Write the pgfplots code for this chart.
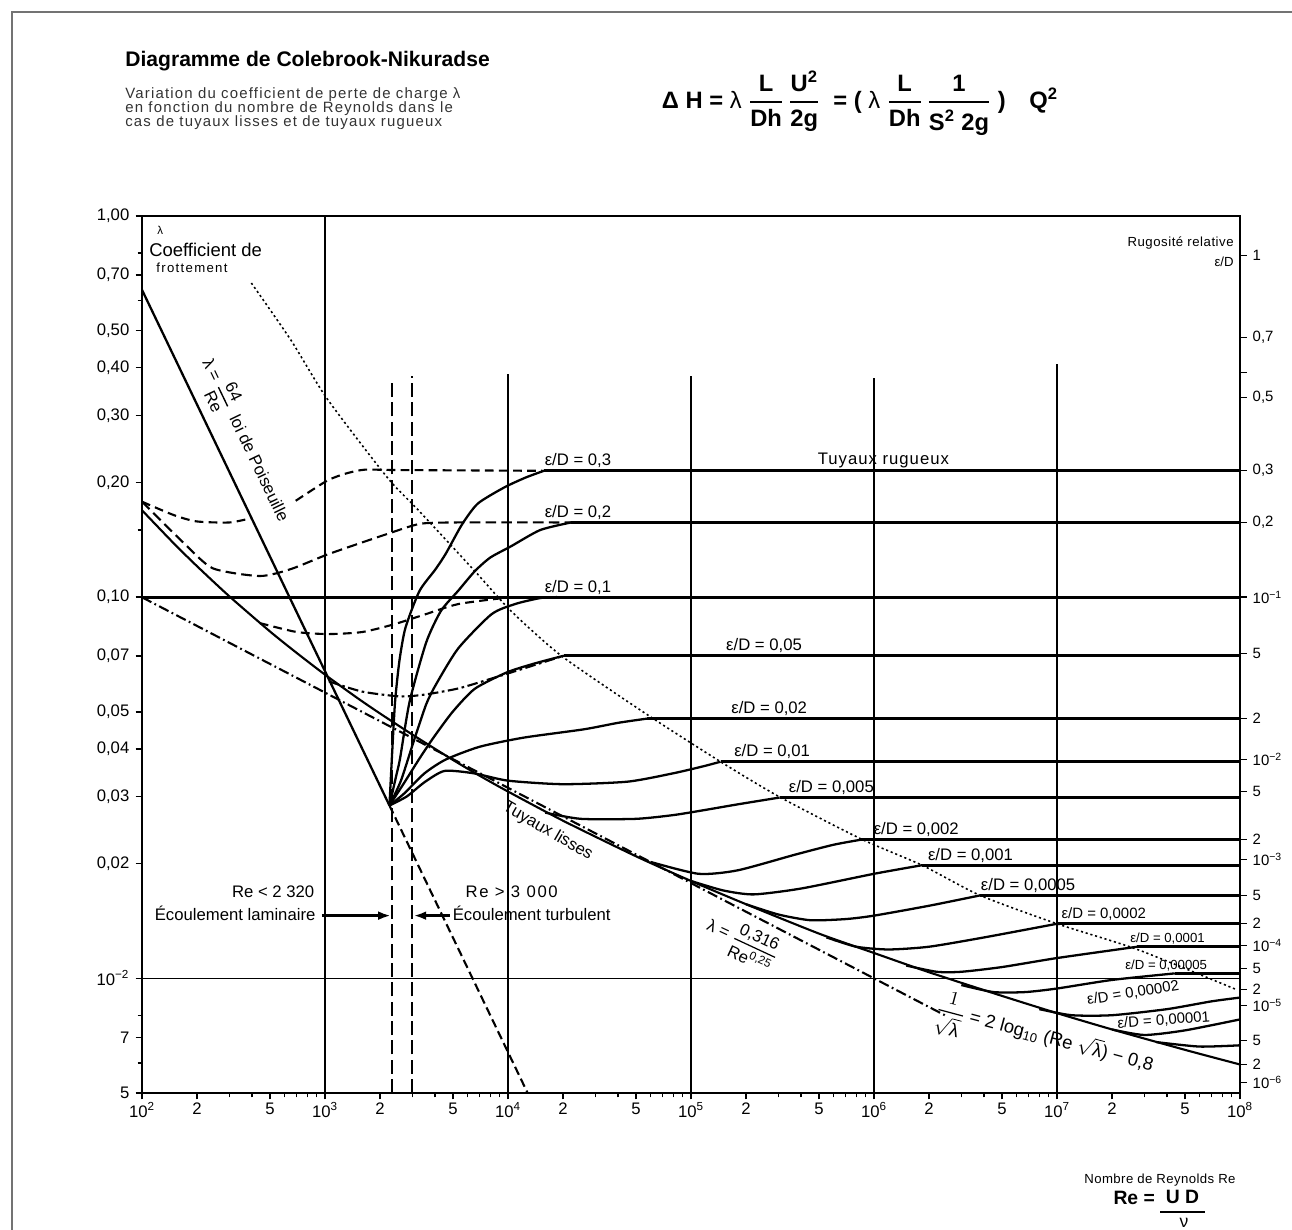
\documentclass[border=0pt]{standalone}
\usepackage{amsmath}
\usepackage{fontspec}
\setmainfont{Liberation Sans}
\usepackage{pgfplots}
\pgfplotsset{compat=1.18}
\usetikzlibrary{arrows.meta}
\newcommand{\fr}[3][1.2pt]{\genfrac{}{}{#1}{0}{#2}{#3}}

\pgfplotsset{
  crv/.style={black, line width=1.3pt, smooth, tension=0.4, mark=none},
  plat/.style={black, line width=1.5pt, mark=none},
  grd/.style={black, line width=1.0pt, mark=none},
}
\tikzset{
  lbl/.style={anchor=south west, inner sep=1.5pt, font=\fontsize{9.5}{10}\selectfont},
  slbl/.style={anchor=south west, inner sep=1pt, font=\fontsize{7.5}{8}\selectfont},
}

\begin{document}
\begin{tikzpicture}
\path[use as bounding box] (-2.84,-2.74) rectangle (23.0,21.86);
\draw[black!55, line width=0.6pt] (-2.6,-2.74) -- (-2.6,21.62) -- (23.0,21.62);

\begin{axis}[
  at={(0,0)}, anchor=south west,
  scale only axis, width=21.96cm, height=17.54cm,
  xmode=log, ymode=log,
  xmin=100, xmax=1e8, ymin=0.005, ymax=1,
  axis line style={line width=1.1pt},
  xtick pos=left, ytick pos=left,
  tick align=outside,
  major tick length=0.13cm, minor tick length=0.09cm,
  every tick/.style={black, line width=0.8pt},
  xtick={1e2,2e2,5e2,1e3,2e3,5e3,1e4,2e4,5e4,1e5,2e5,5e5,1e6,2e6,5e6,1e7,2e7,5e7,1e8},
  xticklabels={10\textsuperscript{2},2,5,10\textsuperscript{3},2,5,10\textsuperscript{4},2,5,10\textsuperscript{5},2,5,10\textsuperscript{6},2,5,10\textsuperscript{7},2,5,10\textsuperscript{8}},
  minor xtick={3e2,4e2,6e2,7e2,8e2,9e2,3e3,4e3,6e3,7e3,8e3,9e3,3e4,4e4,6e4,7e4,8e4,9e4,3e5,4e5,6e5,7e5,8e5,9e5,3e6,4e6,6e6,7e6,8e6,9e6,3e7,4e7,6e7,7e7,8e7,9e7},
  ytick={0.005,0.007,0.01,0.02,0.03,0.04,0.05,0.07,0.1,0.2,0.3,0.4,0.5,0.7,1},
  yticklabels={5,7,{10\textsuperscript{−2}},{0,02},{0,03},{0,04},{0,05},{0,07},{0,10},{0,20},{0,30},{0,40},{0,50},{0,70},{1,00}},
  minor ytick={0.006,0.008,0.15,0.6,0.8},
  tick label style={font=\fontsize{9.5}{10}\selectfont},
  xticklabel style={yshift=0.06cm},
]
% grid-like lines
\addplot[grd] coordinates {(1e3,0.005) (1e3,1)};
\addplot[grd] coordinates {(1e4,0.005) (1e4,0.386)};
\addplot[grd] coordinates {(1e5,0.005) (1e5,0.38)};
\addplot[grd] coordinates {(1e6,0.005) (1e6,0.375)};
\addplot[grd] coordinates {(1e7,0.005) (1e7,0.41)};
\addplot[black, line width=1.1pt, dash pattern=on 8pt off 3pt] coordinates {(2320,0.005) (2320,0.37)};
\addplot[black, line width=1.1pt, dash pattern=on 8pt off 3pt] coordinates {(3000,0.005) (3000,0.38)};
\addplot[black, line width=1.7pt] coordinates {(100,0.1) (1e8,0.1)};
\addplot[black, line width=0.7pt] coordinates {(100,0.01) (1e8,0.01)};

% laminar (Poiseuille)
\addplot[black, line width=1.3pt] coordinates {(100,0.64) (2250,0.0284)};
\addplot[black, line width=1.2pt, dash pattern=on 5pt off 2.5pt] coordinates {(2250,0.0284) (12800,0.005)};
% Blasius
\addplot[black, line width=1.2pt, dash pattern=on 6pt off 2pt on 1pt off 2pt] coordinates {(100,0.0999) (2.5e6,0.00795)};
% smooth pipes (Prandtl)
\addplot[crv, line width=1.2pt] coordinates {(100,0.169)(150,0.138)(200,0.1205)(300,0.1005)(500,0.0813)(700,0.0714)(1000,0.0626)(1500,0.0544)(2000,0.0495)(3000,0.0436)(5000,0.0374)(7000,0.034)(10000,0.0309)(20000,0.0259)(50000,0.0209)(100000,0.018)(200000,0.01564)(500000,0.0131)(1000000,0.01165)(2000000,0.01037)(5000000,0.00899)(10000000,0.0081)(20000000,0.00734)(50000000,0.00649)(100000000,0.00594)};

% boundary of the rough regime (dotted)
\addplot[black, line width=0.9pt, dash pattern=on 1.2pt off 1.6pt, smooth, tension=0.4] coordinates {(396,0.667)(652,0.472)(1025,0.332)(2190,0.206)(3280,0.168)(6590,0.117)(10380,0.092)(19700,0.070)(57500,0.0492)(145000,0.037)(305000,0.0299)(850000,0.0232)(1830000,0.0198)(3800000,0.0165)(10000000,0.0139)(27500000,0.0119)(95000000,0.00935)};

% dashed transitional curves (large roughness)
\addplot[crv, line width=1.2pt, dash pattern=on 5pt off 3pt] coordinates {(100,0.178)(150,0.164)(199,0.158)(300,0.157)(392,0.161)};
\addplot[crv, line width=1.2pt, dash pattern=on 5pt off 3pt] coordinates {(692,0.179)(1025,0.202)(1300,0.211)(1650,0.216)(2500,0.2155)(15700,0.2145)};
\addplot[crv, line width=1.2pt, dash pattern=on 6pt off 3pt] coordinates {(100,0.178)(171,0.138)(244,0.119)(440,0.1136)(652,0.1185)(1050,0.1298)(2190,0.1465)(3280,0.1556)(5000,0.157)(22100,0.157)};
\addplot[crv, line width=1.2pt, dash pattern=on 5pt off 3pt] coordinates {(440,0.0855)(700,0.081)(1050,0.080)(1600,0.081)(2390,0.0849)(3500,0.090)(5350,0.0959)(9880,0.0997)(12000,0.1)};
\addplot[crv, line width=1.2pt, dash pattern=on 6pt off 2pt on 1.5pt off 2pt] coordinates {(1050,0.0601)(1600,0.0565)(2570,0.0549)(3500,0.0555)(5350,0.0576)(8000,0.061)(12200,0.065)(20200,0.0702)};

% rough-pipe curves from the transition point
\addplot[crv] coordinates {(2250,0.0284)(2330,0.0394)(2415,0.0532)(2550,0.068)(2750,0.083)(3280,0.1037)(4000,0.118)(4570,0.130)(5600,0.155)(6840,0.176)(9530,0.194)(12500,0.206)(15700,0.2145)};
\addplot[plat] coordinates {(15700,0.2145)(1e8,0.2145)};
\addplot[crv] coordinates {(2250,0.0284)(2450,0.034)(2570,0.0377)(2900,0.0532)(3570,0.076)(4300,0.092)(5350,0.104)(6590,0.117)(8000,0.127)(10400,0.136)(15000,0.150)(22100,0.157)};
\addplot[plat] coordinates {(22100,0.157)(1e8,0.157)};
\addplot[crv] coordinates {(2250,0.0284)(2600,0.033)(3050,0.0418)(3570,0.0523)(4040,0.059)(5350,0.0734)(8130,0.0902)(11000,0.096)(15100,0.0995)(18500,0.1)};
\addplot[crv] coordinates {(2250,0.0284)(2700,0.0325)(3280,0.0377)(3890,0.0426)(4980,0.050)(6590,0.0575)(9880,0.0635)(14000,0.067)(20200,0.0702)};
\addplot[plat] coordinates {(20200,0.0702)(1e8,0.0702)};
\addplot[crv] coordinates {(2250,0.0284)(2700,0.0305)(3500,0.0345)(4570,0.0375)(7000,0.0405)(12200,0.0428)(26000,0.0450)(40000,0.0468)(57500,0.048)};
\addplot[plat] coordinates {(57500,0.048)(1e8,0.048)};
\addplot[crv] coordinates {(2250,0.0284)(2800,0.0300)(3500,0.0327)(4500,0.0350)(6500,0.0345)(10000,0.0330)(20000,0.0323)(45000,0.0328)(80000,0.0345)(117000,0.0360)(145000,0.037)};
\addplot[plat] coordinates {(145000,0.037)(1e8,0.037)};
% rough-pipe curves leaving the smooth law
\addplot[crv] coordinates {(16000,0.0272)(25000,0.0262)(50000,0.0262)(80000,0.0268)(117000,0.0276)(180000,0.0286)(305000,0.0298)};
\addplot[plat] coordinates {(305000,0.0298)(1e8,0.0298)};
\addplot[crv] coordinates {(60000,0.0202)(110000,0.0188)(180000,0.0192)(370000,0.0211)(600000,0.0224)(850000,0.0231)};
\addplot[plat] coordinates {(850000,0.0231)(1e8,0.0231)};
\addplot[crv] coordinates {(100000,0.0180)(150000,0.0170)(220000,0.0166)(400000,0.0172)(1000000,0.0188)(1830000,0.0198)};
\addplot[plat] coordinates {(1830000,0.0198)(1e8,0.0198)};
\addplot[crv] coordinates {(200000,0.01564)(300000,0.0147)(450000,0.0142)(700000,0.0143)(1000000,0.0146)(2000000,0.0155)(3800000,0.0165)};
\addplot[plat] coordinates {(3800000,0.0165)(1e8,0.0165)};
\addplot[crv] coordinates {(550000,0.0128)(800000,0.0121)(1200000,0.0119)(2000000,0.0121)(4000000,0.0128)(10000000,0.0139)};
\addplot[plat] coordinates {(10000000,0.0139)(1e8,0.0139)};
\addplot[crv] coordinates {(1500000,0.0108)(2200000,0.0104)(3000000,0.0104)(5000000,0.0107)(10000000,0.0113)(27500000,0.0121)};
\addplot[plat] coordinates {(27500000,0.0121)(1e8,0.0121)};
\addplot[crv] coordinates {(3000000,0.0096)(4500000,0.0092)(6700000,0.0092)(10000000,0.0094)(20000000,0.0099)(44000000,0.0103)};
\addplot[plat] coordinates {(44000000,0.0103)(1e8,0.0103)};
\addplot[crv] coordinates {(8000000,0.0083)(12000000,0.0080)(20000000,0.0080)(40000000,0.0083)(70000000,0.0087)(100000000,0.0089)};
\addplot[crv] coordinates {(20000000,0.00734)(30000000,0.0071)(50000000,0.0073)(100000000,0.0078)};
\addplot[crv] coordinates {(35000000,0.0068)(60000000,0.00662)(100000000,0.00667)};

% labels of the roughness curves
\node[lbl] at (axis cs:1.53e4,0.2145) {ε/D = 0,3};
\node[lbl] at (axis cs:1.53e4,0.157) {ε/D = 0,2};
\node[lbl] at (axis cs:1.53e4,0.1) {ε/D = 0,1};
\node[lbl] at (axis cs:1.5e5,0.0702) {ε/D = 0,05};
\node[lbl] at (axis cs:1.6e5,0.048) {ε/D = 0,02};
\node[lbl] at (axis cs:1.66e5,0.037) {ε/D = 0,01};
\node[lbl] at (axis cs:3.3e5,0.0298) {ε/D = 0,005};
\node[lbl] at (axis cs:9.6e5,0.0231) {ε/D = 0,002};
\node[lbl] at (axis cs:1.9e6,0.0198) {ε/D = 0,001};
\node[lbl] at (axis cs:3.7e6,0.0165) {ε/D = 0,0005};
\node[lbl, font=\fontsize{8.5}{9}\selectfont] at (axis cs:1.02e7,0.0139) {ε/D = 0,0002};
\node[slbl] at (axis cs:2.45e7,0.0121) {ε/D = 0,0001};
\node[slbl] at (axis cs:2.3e7,0.0103) {ε/D = 0,00005};
\node[slbl, rotate=9, font=\fontsize{8.5}{9}\selectfont] at (axis cs:1.45e7,0.0083) {ε/D = 0,00002};
\node[slbl, rotate=4, font=\fontsize{8.5}{9}\selectfont] at (axis cs:2.1e7,0.00722) {ε/D = 0,00001};
\node[lbl, font=\fontsize{9.5}{10}\selectfont\addfontfeature{LetterSpace=6}] at (axis cs:4.75e5,0.2145) {Tuyaux rugueux};

\node[rotate=-30, font=\fontsize{9.5}{10}\selectfont] at (axis cs:1.65e4,0.0243) {Tuyaux lisses};
\node[rotate=-25, font=\fontsize{9.5}{10}\selectfont] at (axis cs:1.9e5,0.0124) {λ = $\fr[0.7pt]{\mbox{0,316}}{\mbox{Re\textsuperscript{0,25}}}$};
\node[rotate=-15, font=\fontsize{10.5}{11}\selectfont] at (axis cs:8.5e6,0.0069) {$\fr[0.7pt]{1}{\sqrt{\mbox{λ}}}$ = 2 log\textsubscript{10} (Re $\sqrt{\mbox{λ}}$) − 0,8};
\node[rotate=-64.3, font=\fontsize{9.5}{10}\selectfont] at (axis cs:365,0.2575) {λ = $\fr[0.8pt]{\mbox{64}}{\mbox{Re}}$ \ loi de Poiseuille};

% laminar / turbulent annotations
\node[anchor=base east, font=\fontsize{9.5}{10}\selectfont, inner sep=0pt] at (axis cs:877,0.0163) {Re < 2 320};
\node[anchor=base east, font=\fontsize{9.5}{10}\selectfont, inner sep=0pt] at (axis cs:890,0.01415) {Écoulement laminaire};
\node[anchor=base west, font=\fontsize{9.5}{10}\selectfont\addfontfeature{LetterSpace=10}, inner sep=0pt] at (axis cs:5840,0.0163) {Re > 3 000};
\node[anchor=base west, font=\fontsize{9.5}{10}\selectfont, inner sep=0pt] at (axis cs:4970,0.01415) {Écoulement turbulent};
\draw[-{Latex[length=7pt,width=5pt]}, line width=1.3pt] (axis cs:960,0.0146) -- (axis cs:2280,0.0146);
\draw[-{Latex[length=7pt,width=5pt]}, line width=1.3pt] (axis cs:4800,0.0146) -- (axis cs:3060,0.0146);
\end{axis}

% right-hand roughness scale
\begin{axis}[
  at={(0,0)}, anchor=south west,
  scale only axis, width=21.96cm, height=17.54cm,
  xmode=log, ymode=log,
  xmin=100, xmax=1e8, ymin=0.005, ymax=1,
  hide x axis, axis y line*=right,
  axis line style={-, line width=1.1pt},
  tick align=outside, major tick length=0.13cm,
  every tick/.style={black, line width=0.8pt},
  ytick={0.00532,0.00594,0.00687,0.00849,0.00935,0.0106,0.0122,0.0139,0.0165,0.0205,0.0231,0.0309,0.0375,0.048,0.0712,0.1,0.157,0.215,0.334,0.389,0.48,0.789},
  yticklabels={{10\textsuperscript{−6}},2,5,{10\textsuperscript{−5}},2,5,{10\textsuperscript{−4}},2,5,{10\textsuperscript{−3}},2,5,{10\textsuperscript{−2}},2,5,{10\textsuperscript{−1}},{0,2},{0,3},{0,5},{},{0,7},1},
  tick label style={font=\fontsize{8.5}{9}\selectfont},
]
\addplot[draw=none] coordinates {(1e3,0.1)};
\end{axis}

% texts outside / around the axis
\node[anchor=base west, inner sep=0pt, font=\fontsize{12}{14}\selectfont\bfseries] at (-0.34,20.52) {Diagramme de Colebrook-Nikuradse};
\node[anchor=north west, align=left, inner sep=0pt, text=black!80, font=\fontsize{8.5}{8}\selectfont\addfontfeature{LetterSpace=8}] at (-0.34,20.12) {Variation du coefficient de perte de charge λ\\en fonction du nombre de Reynolds dans le\\cas de tuyaux lisses et de tuyaux rugueux};
\node[font=\fontsize{13.5}{15}\selectfont] at (14.36,19.80) {\textbf{Δ H =} λ $\displaystyle\fr{\textbf{L}}{\textbf{Dh}}\,\fr{\textbf{U\textsuperscript{2}}}{\textbf{2g}}$ \ \textbf{= (} λ $\displaystyle\fr{\textbf{L}}{\textbf{Dh}}\,\fr{\textbf{1}}{\textbf{S\textsuperscript{2} 2g}}$ \textbf{)}\quad\textbf{Q\textsuperscript{2}}};

\node[anchor=west, font=\fontsize{6.5}{7}\selectfont, inner sep=0pt] at (0.30,17.25) {λ};
\node[anchor=west, font=\fontsize{10.5}{11}\selectfont, inner sep=0pt] at (0.14,16.86) {Coefficient de};
\node[anchor=west, font=\fontsize{7.5}{8}\selectfont\addfontfeature{LetterSpace=10}, inner sep=0pt] at (0.28,16.50) {frottement};
\node[anchor=east, font=\fontsize{7.5}{8}\selectfont\addfontfeature{LetterSpace=4}, inner sep=0pt] at (21.84,17.0) {Rugosité relative};
\node[anchor=east, font=\fontsize{7.5}{8}\selectfont, inner sep=0pt] at (21.84,16.62) {ε/D};

\node[font=\fontsize{7.5}{8}\selectfont\addfontfeature{LetterSpace=3}] at (20.36,-1.74) {Nombre de Reynolds Re};
\node[anchor=east, font=\fontsize{11}{12}\selectfont\bfseries, inner sep=1pt] at (20.30,-2.10) {Re =};
\node[font=\fontsize{11}{12}\selectfont\bfseries, inner sep=0pt] at (20.81,-2.08) {U D};
\draw[line width=1.5pt] (20.36,-2.38) -- (21.26,-2.38);
\node[font=\fontsize{10}{11}\selectfont, inner sep=0pt] at (20.84,-2.60) {ν};
\end{tikzpicture}
\end{document}
